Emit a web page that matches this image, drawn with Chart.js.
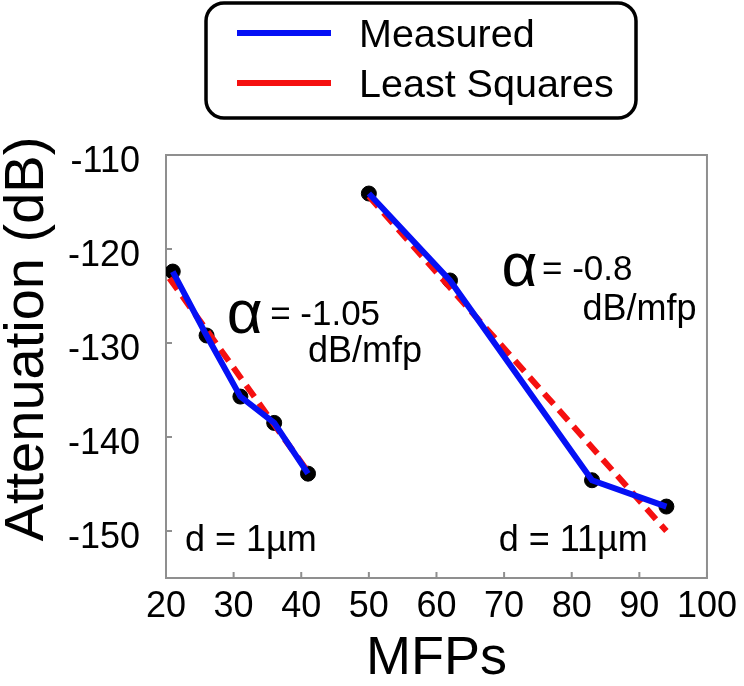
<!DOCTYPE html>
<html>
<head>
<meta charset="utf-8">
<script src="https://cdn.jsdelivr.net/npm/chart.js@4.4.1/dist/chart.umd.min.js"></script>
<style>
  html, body { margin: 0; padding: 0; background: #fff; }
  #wrap { width: 744px; height: 686px; }
</style>
</head>
<body>
<div id="wrap"><canvas id="first" width="744" height="686"></canvas></div>
<script>
// measured attenuation, d = 1um
const mfp1 = [21, 26, 31, 36, 41];
const att1 = [-122.4, -129.2, -135.7, -138.5, -143.9];
// measured attenuation, d = 11um
const mfp2 = [50, 62, 83, 94];
const att2 = [-114.1, -123.35, -144.6, -147.4];
// least squares fits
const fit1X = [20.5, 41];
const fit1Y = [-123.1, -143.7];
const fit2X = [50, 94];
const fit2Y = [-114.4, -150.0];

const xTicks = [20, 30, 40, 50, 60, 70, 80, 90, 100];
const yTicks = [-150, -140, -130, -120, -110];
const seriesNames = ["Measured", "Least Squares"];
const yTitle = "Attenuation (dB)";

const FONT = "'Liberation Sans', Arial, Helvetica, sans-serif";

function pts(xs, ys) {
  return xs.map((v, i) => ({x: v, y: ys[i]}));
}

// text put on the plot, anchored in data units
const notes = [
  {text: "\u03b1", x: 29.0, y: -128.9, size: 62},
  {text: "= -1.05", x: 35.4, y: -128.1, size: 35},
  {text: "dB/mfp", x: 41.0, y: -132.0, size: 36},
  {text: "\u03b1", x: 69.6, y: -123.9, size: 62},
  {text: "= -0.8", x: 75.6, y: -123.3, size: 35},
  {text: "dB/mfp", x: 81.6, y: -127.6, size: 36},
  {text: "d = 1\u00b5m", x: 22.8, y: -152.1, size: 36},
  {text: "d = 11\u00b5m", x: 69.2, y: -152.1, size: 36}
];

const frame = {
  id: "frame",
  beforeDatasetsDraw(chart) {
    const {ctx, chartArea: a, scales} = chart;
    ctx.save();
    ctx.strokeStyle = "#8f8f8f";
    ctx.lineWidth = 2;
    ctx.strokeRect(a.left, a.top, a.right - a.left, a.bottom - a.top);
    ctx.beginPath();
    yTicks.forEach(v => {
      const py = scales.y.getPixelForValue(v);
      ctx.moveTo(a.left, py); ctx.lineTo(a.left + 6, py);
    });
    xTicks.forEach(v => {
      const px = scales.x.getPixelForValue(v);
      ctx.moveTo(px, a.bottom); ctx.lineTo(px, a.bottom - 6);
    });
    ctx.stroke();
    ctx.restore();
  },
  afterDraw(chart) {
    const {ctx, scales} = chart;
    ctx.save();
    ctx.fillStyle = "#000";
    ctx.textBaseline = "alphabetic";
    ctx.textAlign = "left";
    notes.forEach(n => {
      ctx.font = n.size + "px " + FONT;
      ctx.fillText(n.text, scales.x.getPixelForValue(n.x), scales.y.getPixelForValue(n.y));
    });

    // y axis title, sits a bit above the plot centre in the original
    ctx.save();
    ctx.translate(28, 339);
    ctx.rotate(-Math.PI / 2);
    ctx.textAlign = "center";
    ctx.textBaseline = "middle";
    ctx.font = "56px " + FONT;
    ctx.fillText(yTitle, 0, 0);
    ctx.restore();

    // legend box
    ctx.lineWidth = 3.5;
    ctx.strokeStyle = "#000";
    ctx.beginPath();
    ctx.roundRect(206, 3, 430, 115, 18);
    ctx.stroke();
    const colors = [chart.data.datasets[0].borderColor, chart.data.datasets[2].borderColor];
    ctx.font = "39.5px " + FONT;
    seriesNames.forEach((name, i) => {
      const y = 33 + i * 50;
      ctx.strokeStyle = colors[i];
      ctx.lineWidth = 6;
      ctx.beginPath();
      ctx.moveTo(237, y); ctx.lineTo(331, y);
      ctx.stroke();
      ctx.fillText(name, 359, y + 14);
    });
    ctx.restore();
  }
};

const lineStyle = {fill: false, tension: 0, pointRadius: 0, showLine: true};

let chart = new Chart("first", {
  type: "scatter",
  data: {
    datasets: [
      {...lineStyle, label: seriesNames[0], data: pts(mfp1, att1), borderColor: "#0510f5", borderWidth: 6},
      {...lineStyle, label: seriesNames[0], data: pts(mfp2, att2), borderColor: "#0510f5", borderWidth: 6},
      {...lineStyle, label: seriesNames[1], data: pts(fit1X, fit1Y), borderColor: "#f51010", borderWidth: 6, borderDash: [14, 8]},
      {...lineStyle, label: seriesNames[1], data: pts(fit2X, fit2Y), borderColor: "#f51010", borderWidth: 6, borderDash: [14, 8]},
      // markers on top
      {label: "pts1", data: pts(mfp1, att1), showLine: false, pointRadius: 7.5, backgroundColor: "#000", borderColor: "#000"},
      {label: "pts2", data: pts(mfp2, att2), showLine: false, pointRadius: 7.5, backgroundColor: "#000", borderColor: "#000"}
    ]
  },
  options: {
    responsive: false,
    animation: false,
    layout: {padding: {left: 0, top: 155, right: 37, bottom: 0}},
    plugins: {
      legend: {display: false},
      tooltip: {enabled: false}
    },
    scales: {
      x: {
        type: "linear",
        min: 20, max: 100,
        afterFit: s => { s.height = 108; },
        afterBuildTicks: s => { s.ticks = xTicks.map(v => ({value: v})); },
        grid: {display: false, drawTicks: false},
        border: {display: false},
        ticks: {color: "#000", font: {family: FONT, size: 36}, padding: 7, maxRotation: 0},
        title: {display: true, text: "MFPs", color: "#000", font: {family: FONT, size: 54, lineHeight: 1}, padding: 0}
      },
      y: {
        min: -155, max: -110,
        afterFit: s => { s.width = 166; },
        afterBuildTicks: s => { s.ticks = yTicks.map(v => ({value: v})); },
        grid: {display: false, drawTicks: false},
        border: {display: false},
        ticks: {color: "#000", font: {family: FONT, size: 36}, padding: 26, labelOffset: 7},
        title: {display: false}
      }
    }
  },
  plugins: [frame]
});
</script>
</body>
</html>
